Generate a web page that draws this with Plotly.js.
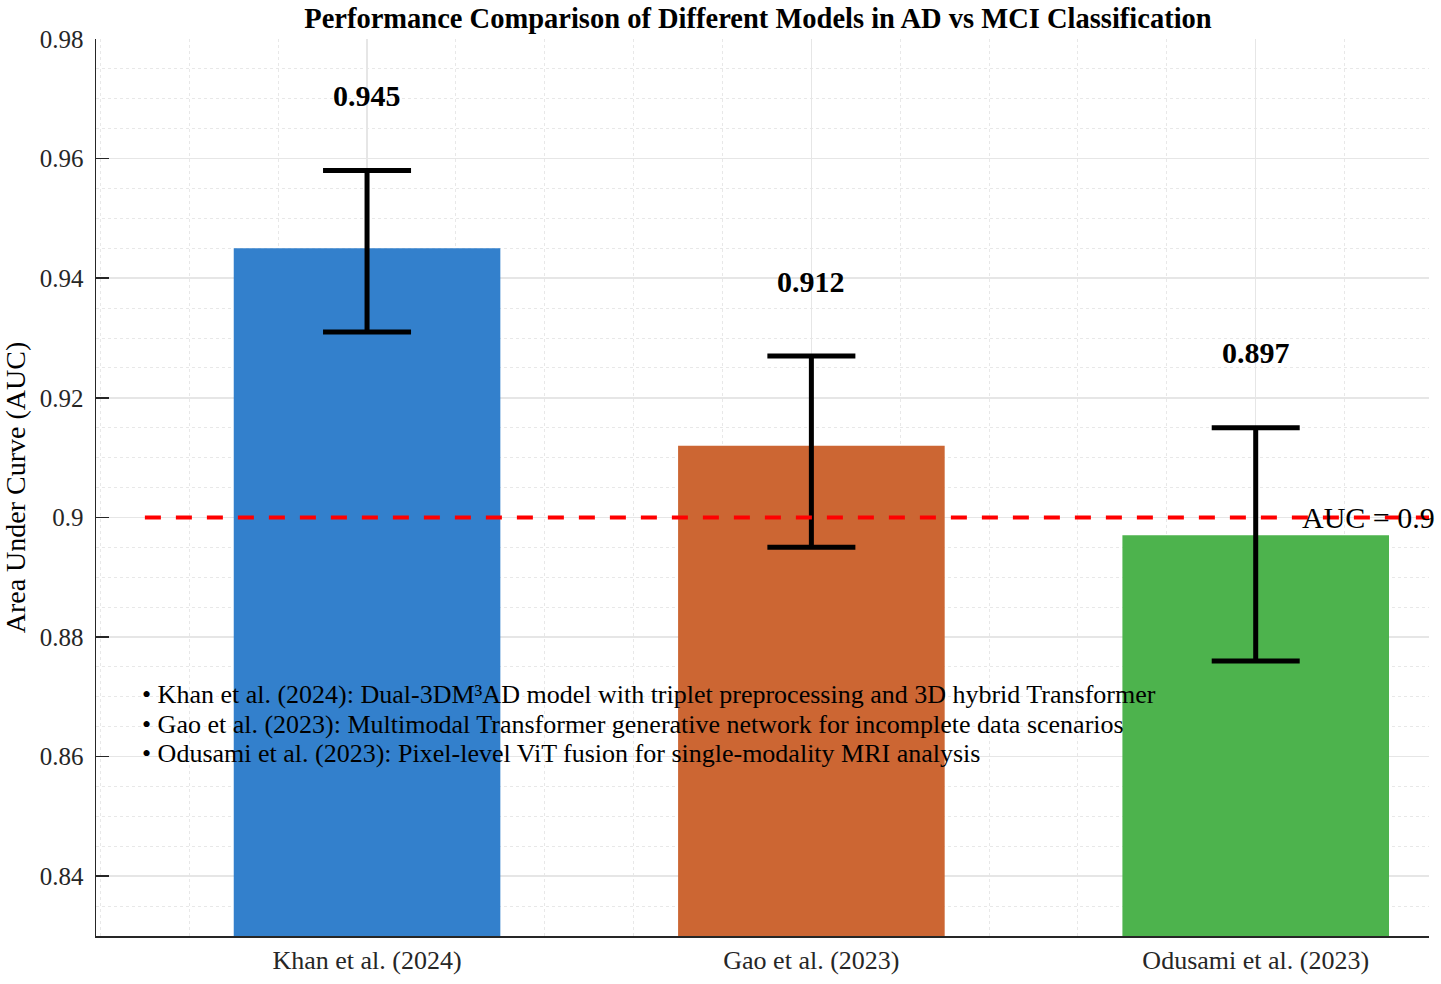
<!DOCTYPE html>
<html>
<head>
<meta charset="utf-8">
<script src="https://cdn.plot.ly/plotly-3.0.1.min.js"></script>
<style>html,body{margin:0;padding:0;background:#fff;}#chart{width:1441px;height:984px;}</style>
</head>
<body>
<div id="chart"></div>
<script>
// ---- data ----
const models = ["Khan et al. (2024)", "Gao et al. (2023)", "Odusami et al. (2023)"];
const auc = [0.945, 0.912, 0.897];
const ciUpper = [0.958, 0.927, 0.915];
const ciLower = [0.931, 0.895, 0.876];
const barColors = ["#3380CC", "#CC6633", "#4DB34D"];
const threshold = 0.9;
const thresholdLabel = "AUC = 0.9";
const yTickVals = [0.84, 0.86, 0.88, 0.90, 0.92, 0.94, 0.96, 0.98];
const yTickText = ["0.84", "0.86", "0.88", "0.9", "0.92", "0.94", "0.96", "0.98"];
const notes = [
  "• Khan et al. (2024): Dual-3DM³AD model with triplet preprocessing and 3D hybrid Transformer",
  "• Gao et al. (2023): Multimodal Transformer generative network for incomplete data scenarios",
  "• Odusami et al. (2023): Pixel-level ViT fusion for single-modality MRI analysis"
];

const xs = models.map((m, i) => i);
const errPlus = auc.map((v, i) => +(ciUpper[i] - v).toFixed(4));
const errMinus = auc.map((v, i) => +(v - ciLower[i]).toFixed(4));

const FONT = "Liberation Serif";

const traces = [
  {
    type: "bar",
    x: xs,
    y: auc,
    width: 0.6,
    marker: {color: barColors, line: {width: 0}},
    error_y: {type: "data", symmetric: false, array: errPlus, arrayminus: errMinus,
              color: "#000", thickness: 5, width: 44},
    hoverinfo: "skip",
    showlegend: false
  },
  {
    type: "scatter",
    mode: "lines",
    x: [-0.5, 2.5],
    y: [threshold, threshold],
    line: {color: "#FF0000", width: 4, dash: "16px,15px"},
    hoverinfo: "skip",
    showlegend: false
  }
];

const annotations = [];
auc.forEach((v, i) => {
  annotations.push({
    x: xs[i], y: ciUpper[i] + 0.0125, xref: "x", yref: "y",
    text: "<b>" + v.toFixed(3) + "</b>", showarrow: false,
    font: {family: FONT, size: 30, color: "#000"},
    xanchor: "center", yanchor: "middle"
  });
});
annotations.push({
  x: 2.1, y: threshold, xref: "x", yref: "y", text: thresholdLabel, showarrow: false,
  font: {family: FONT, size: 30, color: "#000"}, xanchor: "left", yanchor: "middle"
});
notes.forEach((t, i) => {
  annotations.push({
    x: 0.033, y: 0.269 - i * 0.0329, xref: "paper", yref: "paper", text: t, showarrow: false,
    font: {family: FONT, size: 26, color: "#000"}, xanchor: "left", yanchor: "middle"
  });
});

const layout = {
  width: 1441, height: 984,
  margin: {l: 96, r: 12, t: 39, b: 48, pad: 0},
  paper_bgcolor: "#fff", plot_bgcolor: "#fff",
  font: {family: FONT, color: "#262626", size: 25},
  title: {
    text: "<b>Performance Comparison of Different Models in AD vs MCI Classification</b>",
    font: {family: FONT, size: 28.5, color: "#000"},
    x: 0.526, xanchor: "center", y: 0.982, yanchor: "middle"
  },
  xaxis: {
    range: [-0.61, 2.39],
    tickmode: "array", tickvals: xs, ticktext: models,
    tickfont: {family: FONT, size: 26, color: "#262626"},
    ticks: "", showline: true, linecolor: "#262626", linewidth: 1.5,
    showgrid: true, gridcolor: "#E6E6E6", gridwidth: 1.5,
    minor: {tickmode: "linear", tick0: 0, dtick: 0.2, showgrid: true, gridcolor: "#E8E8E8", griddash: "dot", gridwidth: 1},
    zeroline: false, fixedrange: true
  },
  yaxis: {
    range: [0.83, 0.98],
    tickmode: "array", tickvals: yTickVals, ticktext: yTickText,
    tickfont: {family: FONT, size: 25, color: "#262626"},
    ticks: "inside", ticklen: 13, tickwidth: 1.5, tickcolor: "#262626",
    ticklabelstandoff: 6,
    showline: true, linecolor: "#262626", linewidth: 1.5,
    showgrid: true, gridcolor: "#E6E6E6", gridwidth: 1.5,
    minor: {tickmode: "linear", tick0: 0.83, dtick: 0.005, showgrid: true, gridcolor: "#E8E8E8", griddash: "dot", gridwidth: 1},
    zeroline: false, fixedrange: true,
    title: {text: "Area Under Curve (AUC)", font: {family: FONT, size: 28, color: "#000"}, standoff: 6}
  },
  annotations: annotations,
  bargap: 0.4
};

Plotly.newPlot("chart", traces, layout, {displayModeBar: false, staticPlot: true});
</script>
</body>
</html>
